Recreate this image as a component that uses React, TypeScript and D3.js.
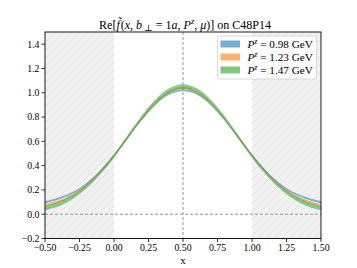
import React from "react";
import * as d3 from "d3";

const xs = [-0.5, -0.4, -0.3, -0.2, -0.1, 0.0, 0.1, 0.2, 0.3, 0.4, 0.5, 0.6, 0.7, 0.8, 0.9, 1.0, 1.1, 1.2, 1.3, 1.4, 1.5];
const blue = [0.1, 0.13, 0.175, 0.25, 0.355, 0.485, 0.635, 0.78, 0.905, 0.99, 1.02, 0.99, 0.905, 0.78, 0.635, 0.485, 0.355, 0.25, 0.175, 0.13, 0.1];
const blueErr = [0.008, 0.008, 0.007, 0.007, 0.007, 0.007, 0.007, 0.007, 0.007, 0.007, 0.008, 0.007, 0.007, 0.007, 0.007, 0.007, 0.007, 0.007, 0.007, 0.008, 0.008];
const orange = [0.075, 0.105, 0.158, 0.238, 0.348, 0.482, 0.636, 0.787, 0.918, 1.005, 1.04, 1.005, 0.918, 0.787, 0.636, 0.482, 0.348, 0.238, 0.158, 0.105, 0.075];
const orangeErr = [0.009, 0.009, 0.008, 0.008, 0.008, 0.008, 0.008, 0.008, 0.008, 0.009, 0.009, 0.009, 0.008, 0.008, 0.008, 0.008, 0.008, 0.008, 0.008, 0.009, 0.009];
const green = [0.05, 0.084, 0.142, 0.227, 0.341, 0.48, 0.637, 0.793, 0.927, 1.017, 1.05, 1.017, 0.927, 0.793, 0.637, 0.48, 0.341, 0.227, 0.142, 0.084, 0.05];
const greenErr = [0.018, 0.018, 0.017, 0.016, 0.015, 0.015, 0.016, 0.017, 0.018, 0.019, 0.02, 0.019, 0.018, 0.017, 0.016, 0.015, 0.015, 0.016, 0.017, 0.018, 0.018];
const xTicks = [-0.5, -0.25, 0, 0.25, 0.5, 0.75, 1.0, 1.25, 1.5];
const yTicks = [-0.2, 0, 0.2, 0.4, 0.6, 0.8, 1.0, 1.2, 1.4];
const seriesLabels = ["0.98", "1.23", "1.47"];
const seriesColors = ["#1f77b4", "#ff7f0e", "#2ca02c"];

const W = 357, H = 268;
const L = 45, R = 321, T = 32, B = 238.5;
const FONT = "'Liberation Serif', 'DejaVu Serif', serif";

export default function App() {
  const x = d3.scaleLinear().domain([-0.5, 1.5]).range([L, R]);
  const y = d3.scaleLinear().domain([-0.2, 1.5]).range([B, T]);
  const series = [
    { v: blue, e: blueErr },
    { v: orange, e: orangeErr },
    { v: green, e: greenErr },
  ];
  const area = (v: number[], e: number[]) =>
    d3
      .area<number>()
      .x((_, i) => x(xs[i]))
      .y0((d, i) => y(d - e[i]))
      .y1((d, i) => y(d + e[i]))
      .curve(d3.curveCatmullRom)(v) || "";
  const minus = (s: string) => s.replace("-", "\u2212");

  return (
    <svg width={W} height={H} style={{ position: "absolute", left: 0, top: 0 }} fontFamily={FONT}>
      <defs>
        <pattern id="hatch" patternUnits="userSpaceOnUse" width="8" height="8">
          <rect width="8" height="8" fill="#f1f1f1" />
          <path d="M-1,1 L1,-1 M0,8 L8,0 M7,9 L9,7" stroke="#dcdcdc" strokeWidth="0.7" />
        </pattern>
        <clipPath id="clip">
          <rect x={L} y={T} width={R - L} height={B - T} />
        </clipPath>
      </defs>
      <rect x={0} y={0} width={W} height={H} fill="#fff" />
      <g clipPath="url(#clip)">
        <rect x={x(-0.5)} y={T} width={x(0) - x(-0.5)} height={B - T} fill="url(#hatch)" />
        <rect x={x(1)} y={T} width={x(1.5) - x(1)} height={B - T} fill="url(#hatch)" />
        <line x1={x(0.5)} x2={x(0.5)} y1={T} y2={B} stroke="#888" strokeWidth={0.9} strokeDasharray="3,2" />
        <line x1={L} x2={R} y1={y(0)} y2={y(0)} stroke="#888" strokeWidth={0.9} strokeDasharray="3,2" />
        {series.map((s, i) => (
          <path key={i} d={area(s.v, s.e)} fill={seriesColors[i]} fillOpacity={0.55} />
        ))}
      </g>
      <rect x={L} y={T} width={R - L} height={B - T} fill="none" stroke="#000" strokeWidth={0.9} />
      {xTicks.map((t) => (
        <g key={"x" + t}>
          <line x1={x(t)} x2={x(t)} y1={B} y2={B + 3.5} stroke="#000" strokeWidth={0.8} />
          <text x={x(t)} y={B + 12.5} fontSize={9.8} textAnchor="middle">
            {minus(t.toFixed(2))}
          </text>
        </g>
      ))}
      {yTicks.map((t) => (
        <g key={"y" + t}>
          <line x1={L - 3.5} x2={L} y1={y(t)} y2={y(t)} stroke="#000" strokeWidth={0.8} />
          <text x={L - 5.5} y={y(t) + 3.4} fontSize={9.8} textAnchor="end">
            {minus(t.toFixed(1))}
          </text>
        </g>
      ))}
      <text x={(L + R) / 2} y={263.5} fontSize={11} textAnchor="middle">x</text>
      <text x={185} y={28.5} fontSize={12} textAnchor="middle">
        <tspan>Re[</tspan>
        <tspan fontStyle="italic">{"f\u0303"}</tspan>
        <tspan dx={1}>(</tspan>
        <tspan fontStyle="italic">x</tspan>
        <tspan>, </tspan>
        <tspan fontStyle="italic">b</tspan>
        <tspan fontSize={9} dy={2}> ⊥</tspan>
        <tspan dy={-2}> = 1</tspan>
        <tspan fontStyle="italic">a</tspan>
        <tspan>, </tspan>
        <tspan fontStyle="italic">P</tspan>
        <tspan fontStyle="italic" fontSize={8.5} dy={-4.5}>z</tspan>
        <tspan dy={4.5}>, </tspan>
        <tspan fontStyle="italic">μ</tspan>
        <tspan>)] on C48P14</tspan>
      </text>
      <rect x={217.5} y={36} width={99} height={43} rx={2} fill="#fff" fillOpacity={0.85} stroke="#d0d0d0" strokeWidth={0.8} />
      {seriesLabels.map((lab, i) => (
        <g key={lab}>
          <rect x={220.5} y={40.5 + i * 13} width={19.5} height={7} fill={seriesColors[i]} fillOpacity={0.6} />
          <text x={247.5} y={48 + i * 13} fontSize={11.2}>
            <tspan fontStyle="italic">P</tspan>
            <tspan fontStyle="italic" fontSize={8} dy={-4}>z</tspan>
            <tspan dy={4}>{` = ${lab} GeV`}</tspan>
          </text>
        </g>
      ))}
    </svg>
  );
}
